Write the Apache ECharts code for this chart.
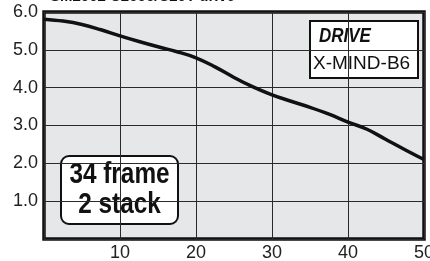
<!DOCTYPE html>
<html>
<head>
<meta charset="utf-8">
<script src="https://cdn.jsdelivr.net/npm/echarts@6/dist/echarts.min.js"></script>
<style>
  html, body { margin: 0; padding: 0; background: #fff; }
  #chart { width: 430px; height: 261px; }
</style>
</head>
<body>
<div id="chart"></div>
<script>
// speed (x) vs torque (y)
const speed = [0, 2.5, 5, 7.5, 10, 12.5, 15, 17.5, 20, 22.5, 25, 27.5, 30, 32.5, 35, 37.5, 40, 42.5, 45, 47.5, 50];
const torque = [5.81, 5.76, 5.67, 5.53, 5.37, 5.22, 5.08, 4.95, 4.79, 4.55, 4.27, 4.02, 3.81, 3.64, 3.48, 3.3, 3.09, 2.9, 2.63, 2.36, 2.1];
const xTicks = [10, 20, 30, 40, 50];
const yTicks = ['1.0', '2.0', '3.0', '4.0', '5.0', '6.0'];

const chart = echarts.init(document.getElementById('chart'));

const option = {
  animation: false,
  grid: {
    left: 44, right: 6, top: 12, bottom: 22,
    outerBoundsMode: 'none',
    containLabel: false,
    show: true,
    backgroundColor: '#e6e7e8',
    borderColor: '#111',
    borderWidth: 3.5
  },
  xAxis: {
    type: 'value',
    min: 0, max: 50, interval: 10,
    axisLine: { show: false },
    axisTick: { show: false },
    splitLine: { lineStyle: { color: '#2a2a2a', width: 1 } },
    axisLabel: {
      color: '#222',
      fontFamily: 'Liberation Sans, Arial',
      fontSize: 18,
      margin: 5,
      showMaxLabel: true,
      formatter: v => (xTicks.includes(v) ? String(v) : '')
    }
  },
  yAxis: {
    type: 'value',
    min: 0, max: 6, interval: 1,
    axisLine: { show: false },
    axisTick: { show: false },
    splitLine: { lineStyle: { color: '#2a2a2a', width: 1 } },
    axisLabel: {
      color: '#222',
      fontFamily: 'Liberation Sans, Arial',
      fontSize: 18,
      margin: 6,
      showMaxLabel: true,
      formatter: v => (v > 0 ? yTicks[v - 1] : '')
    }
  },
  series: [{
    type: 'line',
    smooth: 0.4,
    symbol: 'none',
    lineStyle: { color: '#111', width: 3.5 },
    data: speed.map((s, i) => [s, torque[i]])
  }],
  graphic: [
    {
      type: 'text',
      left: 50, top: -11,
      style: {
        text: 'SM2002 C2006/C20T drive',
        font: 'bold 15px Liberation Sans, Arial',
        fill: '#111'
      }
    },
    {
      type: 'group',
      left: 309, top: 20,
      children: [
        { type: 'rect', shape: { x: 0, y: 0, width: 108, height: 57 },
          style: { fill: '#fff', stroke: '#111', lineWidth: 2 } },
        { type: 'text', x: 9, y: 5, scaleX: 0.85,
          style: { text: 'DRIVE', font: 'italic bold 20px Liberation Sans, Arial', fill: '#111' } },
        { type: 'text', x: 3, y: 33,
          style: { text: 'X-MIND-B6', font: '19px Liberation Sans, Arial', fill: '#111' } }
      ]
    },
    {
      type: 'group',
      left: 60, top: 155,
      children: [
        { type: 'rect', shape: { x: 0, y: 0, width: 117, height: 68, r: 8 },
          style: { fill: '#fff', stroke: '#111', lineWidth: 2 } },
        { type: 'text', x: 58.5, y: 4, scaleX: 0.84, originX: 0,
          style: { text: '34 frame', font: 'bold 29px Liberation Sans, Arial', fill: '#111', align: 'center' } },
        { type: 'text', x: 58.5, y: 34, scaleX: 0.84, originX: 0,
          style: { text: '2 stack', font: 'bold 29px Liberation Sans, Arial', fill: '#111', align: 'center' } }
      ]
    }
  ]
};

chart.setOption(option);
</script>
</body>
</html>
